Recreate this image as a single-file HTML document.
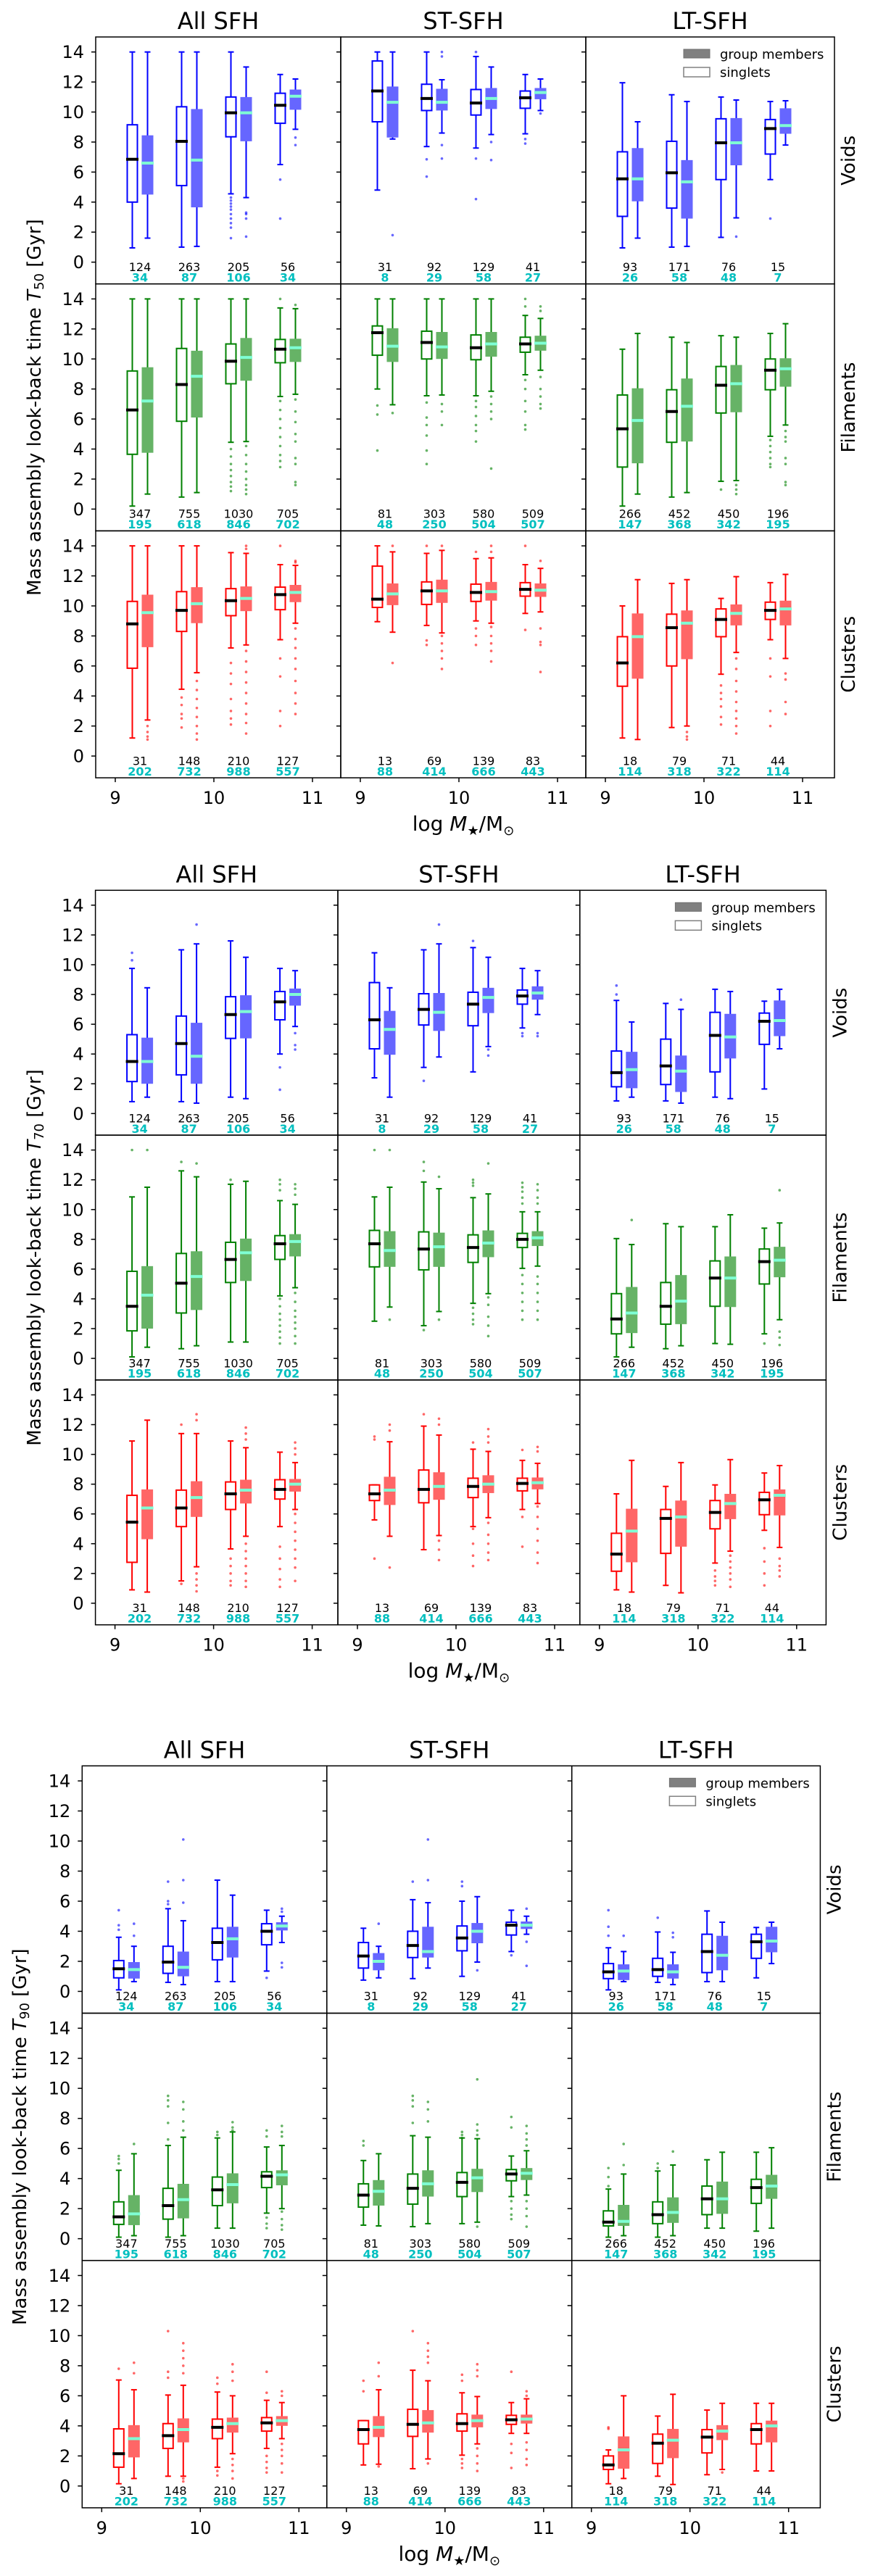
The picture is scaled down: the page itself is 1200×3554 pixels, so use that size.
<!DOCTYPE html>
<html><head><meta charset="utf-8"><title>Mass assembly look-back time box plots</title>
<style>html,body{margin:0;padding:0;background:#fff}svg{display:block}text{font-family:"DejaVu Sans","Liberation Sans",sans-serif}</style>
</head><body>
<svg id="chart" xmlns="http://www.w3.org/2000/svg" width="1200" height="3554" viewBox="0 0 1200 3554"></svg>
<script>
// ---- data: each series [lo, q1, median, q3, hi] per mass bin; series order: all_s, all_g, st_s, st_g, lt_s, lt_g
const massBins = [9.25, 9.75, 10.25, 10.75];
const sfhLabels = ['All SFH', 'ST-SFH', 'LT-SFH'];
const envLabels = ['Voids', 'Filaments', 'Clusters'];
const xTickLabels = [9, 10, 11];
const yTickLabels = [0, 2, 4, 6, 8, 10, 12, 14];

const countsSingle = [
  [[124,263,205,56],[31,92,129,41],[93,171,76,15]],
  [[347,755,1030,705],[81,303,580,509],[266,452,450,196]],
  [[31,148,210,127],[13,69,139,83],[18,79,71,44]]
];
const countsGroup = [
  [[34,87,106,34],[8,29,58,27],[26,58,48,7]],
  [[195,618,846,702],[48,250,504,507],[147,368,342,195]],
  [[202,732,988,557],[88,414,666,443],[114,318,322,114]]
];

const t50Voids = [
  [[0.95,4.0,6.85,9.15,14],[1.0,5.1,8.05,10.35,14],[4.55,8.35,9.95,11.0,14],[6.5,9.25,10.45,11.25,12.5]],
  [[1.6,4.55,6.6,8.4,14],[1.05,3.7,6.8,10.15,14],[4.3,8.1,9.95,10.95,13.0],[8.85,10.2,11.05,11.45,12.2]],
  [[4.8,9.35,11.4,13.4,14],[7.7,10.1,10.9,11.85,14],[7.6,9.8,10.6,11.5,13.7],[8.55,10.25,10.95,11.4,12.5]],
  [[8.2,8.35,10.65,11.65,14],[8.6,10.15,10.65,11.5,12.15],[8.5,10.25,10.9,11.55,13.0],[10.1,10.9,11.3,11.55,12.2]],
  [[0.95,3.05,5.55,7.35,11.95],[1.0,3.6,5.95,8.05,11.15],[1.65,5.5,7.95,9.55,11.0],[5.5,7.2,8.9,9.5,10.7]],
  [[1.6,4.1,5.55,7.55,9.35],[1.05,2.95,5.35,6.75,10.7],[2.95,6.5,7.95,9.55,10.8],[7.8,8.6,9.1,10.2,10.75]]
];
const t50VoidsOut = [
  [[],[],[4.3,4.1,3.9,3.7,3.5,3.2,2.9,2.6,2.3,1.6],[5.5,2.9]],
  [[],[],[3.3,3.2,2.9,1.7],[8.3,7.8]],
  [[],[6.85,5.7],[14,6.9,4.2],[8.2,7.9]],
  [[1.8],[14,13.7,7.8,6.9],[8.0,6.8],[9.9]],
  [[],[],[],[2.9]],
  [[],[],[1.7],[]]
];
const t50Fil = [
  [[0.2,3.65,6.6,9.2,14],[0.8,5.85,8.3,10.7,14],[4.45,8.35,9.85,11.0,14],[7.5,9.75,10.65,11.3,13.4]],
  [[1.0,3.8,7.2,9.4,14],[1.1,6.15,8.85,10.5,14],[4.5,8.6,10.1,11.35,14],[7.65,9.85,10.75,11.3,13.35]],
  [[8.0,10.25,11.75,12.2,14],[7.55,10.0,11.1,11.85,14],[7.55,9.95,10.75,11.6,14],[8.95,10.45,11.0,11.45,12.9]],
  [[6.95,9.85,10.85,12.0,14],[7.6,10.05,10.8,11.75,14],[7.85,10.2,11.0,11.75,14],[9.25,10.6,11.05,11.5,12.7]],
  [[0.2,2.8,5.35,7.6,10.65],[0.8,4.45,6.5,7.95,11.45],[1.85,6.4,8.25,9.5,11.55],[4.85,7.95,9.25,10.0,11.7]],
  [[1.0,3.1,5.9,8.0,11.7],[1.1,4.55,6.85,8.65,11.1],[1.9,6.5,8.35,9.55,11.45],[5.6,8.2,9.35,10.0,12.35]]
];
const t50FilOut = [
  [[],[],[4.0,3.5,3.0,2.6,2.2,1.8,1.5,1.2],[14,7.2,6.6,6.0,5.4,4.8,4.2,3.6,3.2,2.8]],
  [[],[],[4.2,3.6,3.0,2.5,2.0,1.6,1.3,1.0],[13.6,7.3,6.5,5.8,5.0,4.5,3.4,3.0,1.8,1.6]],
  [[6.9,6.3,3.9],[7.1,6.1,5.6,4.9,3.9,3.0],[7.2,6.8,6.2,5.6,5.2,4.5],[14,13.5,8.6,8.0,7.2,6.5,5.6,5.3]],
  [[6.4],[7.0,6.5,5.6],[7.5,7.0,6.5,6.0,2.7],[13.5,13.2,8.8,8.0,7.5,7.0,6.7]],
  [[],[],[1.3],[4.6,4.2,3.8,3.4,3.0,2.8]],
  [[],[],[1.6,1.3,1.0],[5.2,4.8,4.5,3.4,3.0,1.8,1.6]]
];
const t50Clu = [
  [[1.2,5.85,8.8,10.3,14],[4.45,8.3,9.7,10.95,14],[7.2,9.35,10.35,11.15,13.55],[7.75,9.75,10.75,11.25,12.75]],
  [[2.4,7.3,9.55,10.7,14],[5.55,8.9,10.15,11.2,14],[7.4,9.7,10.5,11.25,13.5],[8.85,10.3,10.9,11.35,12.7]],
  [[8.95,9.9,10.45,12.65,14],[8.7,10.1,11.0,11.6,13.5],[9.0,10.3,10.9,11.45,13.15],[9.5,10.65,11.1,11.55,12.75]],
  [[8.25,10.1,10.8,11.45,13.6],[8.2,10.25,11.0,11.7,13.7],[8.85,10.4,10.95,11.55,13.2],[9.6,10.65,11.05,11.45,12.5]],
  [[1.2,4.65,6.2,7.95,10.0],[1.9,6.0,8.55,9.45,11.5],[5.45,7.95,9.1,9.8,10.5],[7.75,9.1,9.7,10.25,11.55]],
  [[1.1,5.2,7.95,9.45,11.75],[2.0,6.5,8.85,9.65,11.75],[6.9,8.75,9.5,10.05,11.95],[6.5,8.75,9.8,10.3,12.1]]
];
const t50CluOut = [
  [[],[3.9,3.4,2.8,2.5,1.9],[6.2,5.5,4.8,3.8,3.0,2.5,2.1],[14,6.5,5.3,3.0,2.0]],
  [[2.0,1.6,1.3,1.1],[5.0,4.4,3.8,3.2,2.6,2.0,1.5,1.1],[14,13.8,7.0,6.3,5.6,4.9,4.2,3.5,2.8,2.2,1.5],[13.0,12.9,8.5,7.8,7.2,6.5,5.8,5.0,4.2,3.5,2.8]],
  [[],[14,7.7,7.4],[13.6,8.5,8.0,7.4],[14,8.4]],
  [[14,6.2],[14,8.0,7.5,7.0,6.5,5.8],[14,13.6,8.6,8.0,7.5,7.0,6.3],[13.0,8.5,7.6,7.4,5.6]],
  [[],[],[4.7,4.2,3.8,3.3,2.6,2.1],[6.5,5.3,3.0,2.0]],
  [[],[1.6,1.3,1.1],[6.5,5.8,5.0,4.3,3.6,3.0,2.5,2.0,1.5],[5.5,5.1,3.6,2.8]]
];

const t70Voids = [
  [[0.8,2.15,3.5,5.3,9.75],[0.8,2.6,4.7,6.55,11.0],[1.1,5.05,6.65,7.85,11.6],[4.0,6.3,7.5,8.2,9.75]],
  [[1.1,2.05,3.5,5.05,8.45],[0.7,2.05,3.85,6.05,11.4],[1.0,5.1,6.85,7.9,10.5],[5.85,7.3,8.0,8.35,9.6]],
  [[2.4,4.35,6.3,8.8,10.8],[3.1,5.95,7.0,8.05,11.0],[2.8,5.9,7.35,8.15,11.15],[5.75,7.35,7.9,8.3,9.75]],
  [[1.1,4.0,5.65,6.85,8.45],[3.8,5.6,6.8,8.05,11.4],[4.5,6.8,7.8,8.4,10.5],[6.65,7.7,8.1,8.5,9.6]],
  [[0.85,1.8,2.75,4.2,7.6],[0.85,1.95,3.2,5.0,7.4],[1.1,2.8,5.25,6.8,8.35],[1.65,4.65,6.2,6.75,7.55]],
  [[1.1,1.75,2.95,4.1,6.15],[0.7,1.5,2.85,3.85,7.0],[1.0,3.75,5.15,6.65,8.2],[4.35,5.25,6.25,7.55,8.35]]
];
const t70VoidsOut = [
  [[10.3,10.8],[],[],[3.1,1.6]],
  [[],[12.7],[],[5.4,4.6,4.3]],
  [[],[2.2],[11.6],[5.4,5.2]],
  [[],[12.7],[4.3,3.9],[5.4,5.2]],
  [[8.0,8.6],[],[],[]],
  [[],[7.65],[],[]]
];
const t70Fil = [
  [[0.1,1.85,3.5,5.85,10.85],[0.65,3.05,5.05,7.05,12.6],[1.1,5.1,6.65,7.8,11.7],[4.2,6.65,7.7,8.25,10.6]],
  [[0.75,2.05,4.25,6.15,11.5],[0.85,3.3,5.5,7.15,12.2],[1.1,5.25,7.1,8.0,11.9],[4.75,6.9,7.85,8.3,10.35]],
  [[2.5,6.15,7.7,8.6,10.85],[2.2,5.95,7.35,8.5,11.85],[3.7,6.45,7.45,8.3,10.8],[6.05,7.45,8.0,8.4,9.85]],
  [[3.45,6.2,7.25,8.5,11.5],[3.15,6.2,7.5,8.4,11.4],[4.35,6.85,7.75,8.55,11.05],[6.2,7.6,8.1,8.5,9.85]],
  [[0.1,1.65,2.65,4.35,8.05],[0.65,2.3,3.5,5.1,9.05],[1.0,3.5,5.4,6.55,8.85],[1.65,5.0,6.5,7.35,8.75]],
  [[0.75,1.75,3.05,4.75,7.65],[0.85,2.35,3.85,5.55,8.85],[0.95,3.5,5.4,6.8,9.65],[2.6,5.5,6.6,7.45,9.1]]
];
const t70FilOut = [
  [[14],[13.2],[12.0],[12.0,11.7,11.3,4.0,3.5,3.0,2.6,2.2,1.8,1.4,1.0]],
  [[14],[13.1],[],[11.7,11.4,11.0,4.4,3.8,3.2,2.8,2.4,2.0,1.5,1.0]],
  [[14],[13.2,12.6,1.9],[12.0,11.8,11.6,3.4,3.0,2.6,2.3],[11.8,11.5,11.2,10.8,10.4,5.6,5.0,4.4,3.8,3.2,2.6]],
  [[14,2.6],[12.2,2.6],[13.1,4.1,3.6,2.8,2.2,1.5],[11.7,11.3,10.8,10.4,5.5,5.0,4.4,3.8,3.2,2.6]],
  [[],[],[],[1.0]],
  [[9.3],[],[],[11.3,1.8,1.4,0.9]]
];
const t70Clu = [
  [[0.9,2.75,5.45,7.25,10.9],[1.5,5.15,6.4,7.6,11.4],[3.65,6.3,7.35,8.15,10.9],[5.15,7.0,7.65,8.3,10.15]],
  [[0.75,4.35,6.4,7.6,12.3],[2.45,5.85,7.1,8.15,11.4],[4.5,6.75,7.6,8.25,10.45],[6.3,7.55,8.0,8.3,9.45]],
  [[5.6,6.9,7.35,7.95,7.95],[3.6,6.75,7.65,8.95,11.9],[5.15,7.1,7.85,8.4,10.35],[6.3,7.55,8.05,8.4,9.6]],
  [[4.5,6.65,7.6,8.45,10.85],[4.55,7.0,7.85,8.75,11.3],[5.75,7.45,8.0,8.55,10.2],[6.7,7.7,8.1,8.4,9.4]],
  [[0.9,2.15,3.3,4.7,7.35],[1.2,3.35,5.7,6.3,7.85],[2.7,5.0,6.1,6.9,7.95],[4.9,5.95,6.95,7.45,8.75]],
  [[0.75,2.8,4.85,6.3,9.6],[0.7,3.85,5.8,6.85,9.45],[3.5,5.7,6.7,7.3,9.65],[3.75,5.95,7.25,7.6,9.25]]
];
const t70CluOut = [
  [[],[12.0,1.3],[3.0,2.5,2.0,1.5,1.2],[3.8,3.0,2.3,1.6,1.1]],
  [[],[12.7,12.3,2.0,1.6,1.2,0.8],[11.8,11.4,11.0,4.0,3.5,3.0,2.5,2.0,1.5,1.1],[10.8,10.4,10.0,6.0,5.4,4.8,4.2,3.6,3.0,2.4,1.5]],
  [[11.0,11.2,3.0],[12.7],[10.8,5.0,4.0,3.2,2.5],[10.3,5.8,3.8]],
  [[12.0,11.6,2.4],[12.4,12.0,4.2,3.6,2.9],[11.7,11.2,10.8,5.4,4.6,4.0,3.4,2.9],[10.5,10.2,6.5,5.8,5.0,4.2,3.4,2.7]],
  [[],[],[2.2,1.8,1.5,1.2],[3.7,2.8,2.0,1.2]],
  [[],[],[3.2,2.8,2.4,2.0,1.6,1.1],[3.0,2.5,2.2,1.8]]
];

const t90Voids = [
  [[0.1,0.9,1.5,2.05,3.6],[0.6,1.2,1.95,3.0,5.5],[0.65,2.1,3.25,4.2,7.4],[1.35,3.1,4.0,4.5,5.4]],
  [[0.65,0.9,1.45,1.9,3.0],[0.45,1.05,1.6,2.6,4.7],[0.65,2.3,3.5,4.25,6.4],[3.25,4.1,4.35,4.55,5.0]],
  [[0.75,1.55,2.35,3.25,4.2],[0.85,2.25,3.05,4.0,6.1],[1.0,2.7,3.55,4.35,6.0],[2.65,3.75,4.4,4.6,5.4]],
  [[0.9,1.45,2.0,2.5,3.0],[1.55,2.3,2.65,4.25,5.9],[1.95,3.25,4.0,4.5,6.3],[3.8,4.2,4.4,4.6,5.0]],
  [[0.1,0.85,1.3,1.85,2.9],[0.6,1.0,1.45,2.2,3.95],[0.65,1.25,2.65,3.8,5.35],[0.9,2.2,3.3,3.8,4.25]],
  [[0.65,0.8,1.35,1.75,2.65],[0.45,0.9,1.3,1.75,2.6],[0.65,1.45,2.4,3.65,4.6],[1.85,2.65,3.35,4.25,4.6]]
];
const t90VoidsOut = [
  [[4.4,4.1,5.4],[6.0,5.8,7.3],[],[0.9]],
  [[3.7,4.5],[5.9,7.4,10.1],[],[5.5,5.3,1.9,1.6]],
  [[],[7.3],[7.3,7.0],[2.4]],
  [[4.5],[7.4,10.1],[1.4],[5.5,3.3,1.7]],
  [[4.3,5.4,3.7],[4.9],[],[]],
  [[3.7],[3.9,3.6],[],[]]
];
const t90Fil = [
  [[0.1,0.95,1.45,2.45,4.55],[0.1,1.3,2.2,3.35,6.2],[0.7,2.2,3.25,4.1,6.7],[1.7,3.4,4.15,4.45,6.1]],
  [[0.2,0.95,1.65,2.85,5.65],[0.2,1.4,2.6,3.6,6.75],[0.7,2.4,3.6,4.3,7.1],[2.0,3.6,4.25,4.5,6.2]],
  [[0.9,2.1,2.9,3.65,5.2],[0.8,2.3,3.35,4.3,6.85],[1.0,2.8,3.75,4.4,6.7],[2.8,3.85,4.3,4.6,5.5]],
  [[0.85,2.25,3.15,3.85,5.65],[1.0,2.85,3.65,4.5,6.75],[1.1,3.15,4.05,4.6,6.65],[2.9,3.95,4.35,4.65,5.85]],
  [[0.1,0.85,1.1,1.85,3.3],[0.1,1.0,1.6,2.45,4.5],[0.7,1.6,2.65,3.5,5.25],[0.5,2.35,3.4,3.95,5.75]],
  [[0.2,0.9,1.15,2.2,4.3],[0.2,1.1,1.75,2.7,4.9],[0.7,1.7,2.65,3.75,5.75],[0.7,2.7,3.5,4.2,6.05]]
];
const t90FilOut = [
  [[5.0,5.3,5.5],[9.5,9.2,8.8,7.7,6.6],[7.1,6.9],[7.2,6.8,1.4,1.0,0.7]],
  [[6.3],[9.1,8.6,7.8,7.2],[7.75,7.4,7.2],[7.5,7.1,6.8,1.8,1.3,0.9,0.6]],
  [[6.5,6.2],[9.5,9.2,8.8,7.7],[7.1,6.9,6.7],[8.1,7.4,2.5,2.0,1.6,1.3]],
  [[],[9.1,8.6,7.8],[10.6,7.6,7.2,6.9,0.8],[7.5,7.0,6.6,6.2,2.5,2.0,1.5,0.8]],
  [[4.7,4.1,3.5],[5.0,4.7],[],[]],
  [[4.9,6.3],[5.8],[],[]]
];
const t90Clu = [
  [[0.15,1.25,2.15,3.8,7.05],[0.65,2.5,3.35,4.15,6.05],[1.25,3.15,3.9,4.45,6.25],[2.5,3.65,4.2,4.55,5.7]],
  [[0.5,1.95,3.15,4.0,6.4],[0.65,2.95,3.75,4.45,6.7],[2.15,3.6,4.15,4.5,6.0],[3.15,4.05,4.35,4.6,5.55]],
  [[1.4,2.8,3.75,4.35,4.35],[1.15,3.3,4.1,5.1,7.7],[2.05,3.65,4.15,4.8,6.2],[3.5,4.1,4.4,4.7,5.55]],
  [[1.45,3.3,3.9,4.6,6.4],[1.8,3.6,4.2,5.0,7.0],[2.8,3.95,4.35,4.7,5.95],[3.5,4.2,4.45,4.7,5.8]],
  [[0.15,1.1,1.4,2.0,2.4],[0.65,1.5,2.85,3.45,4.65],[0.75,2.2,3.25,3.75,5.05],[1.0,2.8,3.75,4.15,5.5]],
  [[0.5,1.2,2.4,3.25,6.0],[0.1,1.9,3.05,3.75,6.1],[1.1,3.1,3.65,4.0,5.5],[1.0,2.95,4.0,4.3,5.5]]
];
const t90CluOut = [
  [[7.8],[7.6,7.2,10.3],[7.2,6.8,1.0,0.7],[6.2,7.6,2.0,1.6,1.2,0.9]],
  [[8.2,7.5],[9.5,9.0,8.5,8.0,7.5,0.5,0.3],[8.1,7.6,7.0,1.8,1.4,1.0,0.5],[6.3,6.0,2.8,2.4,2.0,1.5,0.9]],
  [[7.0,6.3],[10.3],[7.4,7.0,1.8,1.5,1.2],[7.6,2.8,2.2,1.2]],
  [[8.2,7.3,1.3],[9.5,9.0,8.6,8.2,1.5],[8.1,7.7,7.3,2.5,2.0,1.5,1.0],[6.3,6.0,2.9,2.4,1.8,1.4]],
  [[3.9,3.8],[],[],[]],
  [[],[],[0.9],[]]
];

// ---- layout (not data)
const figures = [
  {sub:'50', left:132, top:51, widths:[338,338,343], rowH:340.7, ylabX:48, stats:[t50Voids,t50Fil,t50Clu], outs:[t50VoidsOut,t50FilOut,t50CluOut]},
  {sub:'70', left:131.6, top:1228.3, widths:[334.4,333.8,339.6], rowH:337.8, ylabX:48, stats:[t70Voids,t70Fil,t70Clu], outs:[t70VoidsOut,t70FilOut,t70CluOut]},
  {sub:'90', left:113.3, top:2436.3, widths:[337.5,337.9,342.7], rowH:341.2, ylabX:28, stats:[t90Voids,t90Fil,t90Clu], outs:[t90VoidsOut,t90FilOut,t90CluOut]}
];
const envColor = ['#0000ff', '#008000', '#ff0000'];
const envFill = ['#6666ff', '#66b366', '#ff6666'];
const Y_TOP = 15.0, Y_BOT = -1.45;

const NS = 'http://www.w3.org/2000/svg';
const svg = document.getElementById('chart');
function mk(tag, attrs, parent) {
  const el = document.createElementNS(NS, tag);
  for (const k in attrs) el.setAttribute(k, attrs[k]);
  (parent || svg).appendChild(el);
  return el;
}

figures.forEach((fig, fi) => {
  const g = mk('g', {});
  
  
  const lefts = [fig.left, fig.left + fig.widths[0], fig.left + fig.widths[0] + fig.widths[1]];
  const totalW = fig.widths[0] + fig.widths[1] + fig.widths[2];
  const bottom = fig.top + 3 * fig.rowH;

  // column titles
  sfhLabels.forEach((s, c) => {
    const t = mk('text', {x: lefts[c] + fig.widths[c] / 2, y: fig.top - 11, 'font-size': 32, 'text-anchor': 'middle', fill: '#000'}, g);
    t.textContent = s;
    
    
  });

  for (let r = 0; r < 3; r++) {
    const rowTop = fig.top + r * fig.rowH;
    const yScale = v => rowTop + (Y_TOP - v) * fig.rowH / (Y_TOP - Y_BOT);
    for (let c = 0; c < 3; c++) {
      const L = lefts[c], W = fig.widths[c];
      const xScale = m => L + 27 + (m - 9) * 136;
      const pg = mk('g', {}, g);
      
      

      // y ticks
      yTickLabels.forEach(v => {
        const yy = yScale(v);
        const tk = mk('line', {x1: L - 6, x2: L, y1: yy, y2: yy, stroke: '#000', 'stroke-width': 1.5}, pg);
        
        
        if (c === 0) {
          const tl = mk('text', {x: L - 16, y: yy + 8.5, 'font-size': 24, 'text-anchor': 'end', fill: '#000'}, pg);
          tl.textContent = v;
          
          
        }
      });
      // x ticks on bottom row
      if (r === 2) {
        xTickLabels.forEach(m => {
          const xx = xScale(m);
          const tk = mk('line', {x1: xx, x2: xx, y1: bottom, y2: bottom + 6, stroke: '#000', 'stroke-width': 1.5}, pg);
          
          
          const tl = mk('text', {x: xx, y: bottom + 36, 'font-size': 24, 'text-anchor': 'middle', fill: '#000'}, pg);
          tl.textContent = m;
          
          
        });
      }

      const statsEnv = fig.stats[r], outsEnv = fig.outs[r];
      massBins.forEach((m, b) => {
        [0, 1].forEach(k => {
          const sIdx = c * 2 + k;
          const st = statsEnv[sIdx][b];
          const cx = xScale(m) + (k === 0 ? -10.5 : 10.5);
          const bg = mk('g', {}, pg);
          
          
          const col = envColor[r];
          const yLo = yScale(st[0]), yQ1 = yScale(st[1]), yMed = yScale(st[2]), yQ3 = yScale(st[3]), yHi = yScale(st[4]);
          mk('line', {x1: cx, x2: cx, y1: yQ3, y2: yHi, stroke: col, 'stroke-width': 2}, bg);
          mk('line', {x1: cx, x2: cx, y1: yQ1, y2: yLo, stroke: col, 'stroke-width': 2}, bg);
          mk('line', {x1: cx - 4, x2: cx + 4, y1: yHi, y2: yHi, stroke: col, 'stroke-width': 2}, bg);
          mk('line', {x1: cx - 4, x2: cx + 4, y1: yLo, y2: yLo, stroke: col, 'stroke-width': 2}, bg);
          if (k === 0) {
            mk('rect', {x: cx - 7, y: yQ3, width: 14, height: Math.max(0.5, yQ1 - yQ3), fill: '#fff', stroke: col, 'stroke-width': 2}, bg);
            mk('line', {x1: cx - 8.5, x2: cx + 8.5, y1: yMed, y2: yMed, stroke: '#000', 'stroke-width': 4}, bg);
          } else {
            mk('rect', {x: cx - 7, y: yQ3, width: 14, height: Math.max(0.5, yQ1 - yQ3), fill: envFill[r], stroke: envFill[r], 'stroke-width': 2}, bg);
            mk('line', {x1: cx - 8.5, x2: cx + 8.5, y1: yMed, y2: yMed, stroke: '#7fffd4', 'stroke-width': 4}, bg);
          }
          outsEnv[sIdx][b].forEach(v => {
            const dot = mk('circle', {cx: cx, cy: yScale(v), r: 1.8, fill: col, 'fill-opacity': 0.6}, bg);
            
            
          });
        });
        const n1 = mk('text', {x: xScale(m), y: yScale(-0.3) + 6, 'font-size': 16, 'text-anchor': 'middle', fill: '#000'}, pg);
        n1.textContent = countsSingle[r][c][b];
        
        
        const n2 = mk('text', {x: xScale(m), y: yScale(-1.0) + 6, 'font-size': 16, 'font-weight': 'bold', 'text-anchor': 'middle', fill: '#00bfbf'}, pg);
        n2.textContent = countsGroup[r][c][b];
        
        
      });

      const border = mk('rect', {x: L, y: rowTop, width: W, height: fig.rowH, fill: 'none', stroke: '#000', 'stroke-width': 1.5}, pg);
      
      

      // legend in the top-right panel
      if (r === 0 && c === 2) {
        const R = L + W, T = rowTop;
        const lg = mk('g', {}, pg);
        
        
        mk('rect', {x: R - 208, y: T + 17, width: 36, height: 12, fill: '#808080', stroke: '#707070', 'stroke-width': 1}, lg);
        mk('rect', {x: R - 208, y: T + 42, width: 36, height: 13, fill: '#fff', stroke: '#808080', 'stroke-width': 1.5}, lg);
        const l1 = mk('text', {x: R - 158, y: T + 30, 'font-size': 18, fill: '#000'}, lg);
        l1.textContent = 'group members';
        
        
        const l2 = mk('text', {x: R - 158, y: T + 55, 'font-size': 18, fill: '#000'}, lg);
        l2.textContent = 'singlets';
        
        
      }
    }
    // row label on right
    const rx = fig.left + totalW + 20, ry = rowTop + fig.rowH / 2;
    const rl = mk('text', {x: rx, y: ry, 'font-size': 26, 'text-anchor': 'middle', 'dominant-baseline': 'central', fill: '#000', transform: 'rotate(-90 ' + rx + ' ' + ry + ')'}, g);
    rl.textContent = envLabels[r];
    
    
  }

  // y-axis title
  const yx = fig.ylabX, yy = fig.top + 1.5 * fig.rowH;
  const yt = mk('text', {x: yx, y: yy, 'font-size': 26, 'text-anchor': 'middle', 'dominant-baseline': 'central', fill: '#000', transform: 'rotate(-90 ' + yx + ' ' + yy + ')'}, g);
  
  
  const s1 = mk('tspan', {}, yt); s1.textContent = 'Mass assembly look-back time ';
  const s2 = mk('tspan', {'font-style': 'italic'}, yt); s2.textContent = 'T';
  const s3 = mk('tspan', {'font-size': 18, dy: 6}, yt); s3.textContent = fig.sub;
  const s4 = mk('tspan', {dy: -6}, yt); s4.textContent = ' [Gyr]';

  // x-axis title
  const xc = lefts[1] + fig.widths[1] / 2;
  const xt = mk('text', {x: xc, y: bottom + 73, 'font-size': 28, 'text-anchor': 'middle', fill: '#000'}, g);
  
  
  const a1 = mk('tspan', {}, xt); a1.textContent = 'log ';
  const a2 = mk('tspan', {'font-style': 'italic'}, xt); a2.textContent = 'M';
  const a3 = mk('tspan', {'font-size': 18, dy: 6}, xt); a3.textContent = '★';
  const a4 = mk('tspan', {dy: -6}, xt); a4.textContent = '/M';
  const a5 = mk('tspan', {'font-size': 18, dy: 6}, xt); a5.textContent = '⊙';
});
</script>
</body></html>
